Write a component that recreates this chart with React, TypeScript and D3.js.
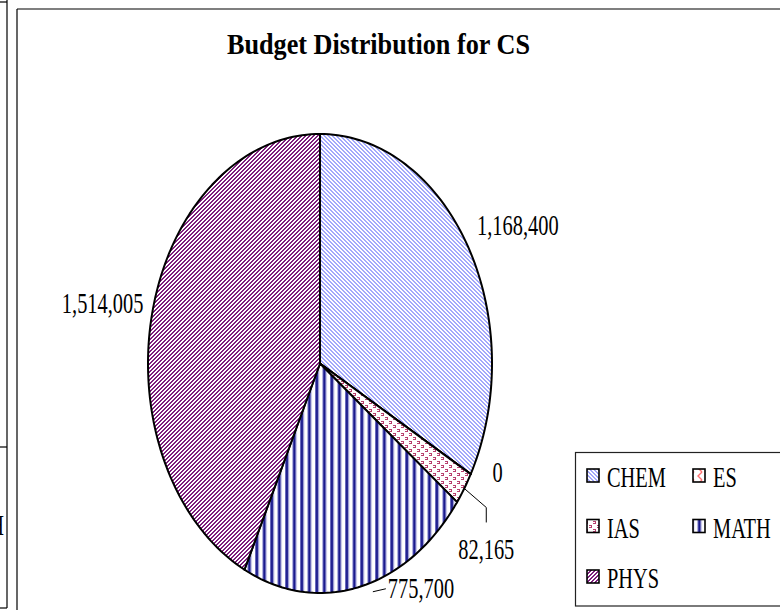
import React, { useMemo } from 'react';
import * as d3 from 'd3';

// data
const categories = ['CHEM', 'ES', 'IAS', 'MATH', 'PHYS'];
const budgets = [1168400, 0, 82165, 775700, 1514005];
const patternIds = ['pat-chem', 'pat-es', 'pat-ias', 'pat-math', 'pat-phys'];

// label placement relative to the slice's outer edge point (layout only)
const labelLayout = [
  { dx: 9, dy: -12, anchor: 'start', leader: null },
  { dx: 27, dy: 8, anchor: 'middle', leader: null },
  { dx: 22, dy: 71, anchor: 'middle', leader: [[0, 0], [22, 19], [22, 34]] },
  { dx: 28, dy: 11, anchor: 'start', leader: [[13, 5], [26, 2]] },
  { dx: -9, dy: 1, anchor: 'end', leader: null },
];

const W = 780;
const H = 610;
const cx = 320;
const cy = 363.5;
const rx = 172;
const ry = 229.5;
const FONT = '"Liberation Serif", "Times New Roman", serif';
const FS = 30;
const SX = 0.68; // text in the reference is squeezed horizontally

function pixelPattern(id: string, color: string, test: (x: number, y: number) => boolean, size = 4) {
  const cells: JSX.Element[] = [];
  for (let y = 0; y < size; y++) {
    for (let x = 0; x < size; x++) {
      if (test(x, y)) cells.push(<rect key={`${x}-${y}`} x={x} y={y} width={1} height={1} fill={color} />);
    }
  }
  return (
    <pattern id={id} patternUnits="userSpaceOnUse" width={size} height={size} key={id}>
      <rect width={size} height={size} fill="#fff" />
      {cells}
    </pattern>
  );
}

export default function App() {
  const slices = useMemo(() => d3.pie<number>().sort(null).value(d => d)(budgets), []);

  const pt = (a: number, k = 1): [number, number] => [cx + k * rx * Math.sin(a), cy - k * ry * Math.cos(a)];

  const line = d3.line();
  const slicePath = (s: d3.PieArcDatum<number>) => {
    const n = Math.max(2, Math.ceil(((s.endAngle - s.startAngle) / (Math.PI * 2)) * 240));
    const pts: [number, number][] = [[cx, cy]];
    d3.range(n + 1).forEach(i => pts.push(pt(s.startAngle + ((s.endAngle - s.startAngle) * i) / n)));
    return line(pts) + 'Z';
  };
  const fmt = d3.format(',');

  const legendCols = [587, 693];
  const legendRow0 = 487;
  const legendRowGap = 50.5;

  return (
    <svg width={W} height={H} style={{ position: 'absolute', left: 0, top: 0 }} fontFamily={FONT}>
      <defs>
        {pixelPattern('pat-chem', '#a3a8fb', (x, y) => ((x - y + 8) % 4) < 2)}
        {pixelPattern('pat-phys', '#7d1d7d', (x, y) => ((x + y) % 4) < 2)}
        <pattern id="pat-math" patternUnits="userSpaceOnUse" width={7.5} height={4}>
          <rect width={7.5} height={4} fill="#fff" />
          <rect x={0} width={1} height={4} fill="#6a6abf" />
          <rect x={1} width={2} height={4} fill="#15158a" />
          <rect x={3} width={1} height={4} fill="#7a7ac6" />
        </pattern>
        <pattern id="pat-ias" patternUnits="userSpaceOnUse" width={8} height={8}>
          <rect width={8} height={8} fill="#fff" />
          <g fill="#b8406e">
            <rect x={1} y={1} width={2} height={1} />
            <rect x={3} y={1} width={1} height={3} />
            <rect x={1} y={3} width={2} height={1} />
            <rect x={5} y={5} width={2} height={1} />
            <rect x={7} y={5} width={1} height={3} />
            <rect x={5} y={7} width={2} height={1} />
          </g>
        </pattern>
        <pattern id="pat-es" patternUnits="userSpaceOnUse" width={8} height={8}>
          <rect width={8} height={8} fill="#fff" />
          <path d="M6,0 L2,4 L6,8" stroke="#ff7070" strokeWidth={1.4} fill="none" />
        </pattern>
      </defs>

      {/* neighbouring chart frame on the left */}
      <g stroke="#000" strokeWidth={1.2} fill="none">
        <line x1={0} y1={2} x2={7} y2={2} />
        <line x1={7} y1={0} x2={7} y2={608} />
        <line x1={0} y1={447} x2={7} y2={447} />
        <line x1={0} y1={608} x2={7} y2={608} />
      </g>
      <text transform={`translate(4,535) scale(${SX},1)`} textAnchor="end" fontSize={FS} fill="#000">H</text>

      {/* chart frame */}
      <g stroke="#000" strokeWidth={1.2} fill="none">
        <line x1={17} y1={9} x2={W} y2={9} />
        <line x1={17} y1={9} x2={17} y2={H} />
      </g>

      <text x={378.5} y={54} textAnchor="middle" fontSize={29} fontWeight="bold" textLength={303} lengthAdjust="spacingAndGlyphs">
        Budget Distribution for CS
      </text>

      {slices.map((s, i) => (
        <path key={categories[i]} d={slicePath(s)} fill={`url(#${patternIds[i]})`} stroke="#000" strokeWidth={2} strokeLinejoin="round" />
      ))}

      {slices.map((s, i) => {
        const mid = (s.startAngle + s.endAngle) / 2;
        const [ex, ey] = pt(mid);
        const lay = labelLayout[i];
        return (
          <g key={`lbl-${categories[i]}`}>
            {lay.leader && (
              <polyline
                points={lay.leader.map(([dx, dy]) => `${ex + dx},${ey + dy}`).join(' ')}
                fill="none"
                stroke="#000"
                strokeWidth={1}
              />
            )}
            <text transform={`translate(${ex + lay.dx},${ey + lay.dy}) scale(${SX},1)`} textAnchor={lay.anchor} fontSize={FS} fill="#000">
              {fmt(s.data)}
            </text>
          </g>
        );
      })}

      {/* legend */}
      <rect x={575.5} y={452.5} width={230} height={153.5} fill="#fff" stroke="#222" strokeWidth={1.2} />
      {categories.map((c, i) => {
        const col = i % 2;
        const row = Math.floor(i / 2);
        const x = legendCols[col];
        const base = legendRow0 + row * legendRowGap;
        return (
          <g key={`leg-${c}`}>
            <rect x={x} y={base - 18} width={12} height={13} fill={`url(#${patternIds[i]})`} stroke="#000" strokeWidth={1.6} />
            <text transform={`translate(${x + 20},${base}) scale(${SX},1)`} fontSize={FS} fill="#000">
              {c}
            </text>
          </g>
        );
      })}
    </svg>
  );
}
